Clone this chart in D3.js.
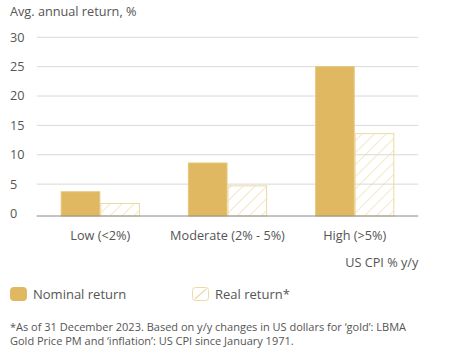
<!DOCTYPE html>
<html><head><meta charset="utf-8">
<script src="https://cdn.jsdelivr.net/npm/d3@7"></script>
<style>body{margin:0;background:#fff}svg{display:block;font-family:"Open Sans",sans-serif}</style>
</head><body>
<svg id="c" width="450" height="355"></svg>
<script>
const categories = ["Low (<2%)", "Moderate (2% - 5%)", "High (>5%)"];
const seriesNames = ["Nominal return", "Real return*"];
const nominal = [3.7, 8.6, 25.0];
const real = [1.7, 4.7, 13.6];
const yTicks = [0, 5, 10, 15, 20, 25, 30];
const title = "Avg. annual return, %";
const xTitle = "US CPI % y/y";
const footnote = ["*As of 31 December 2023. Based on y/y changes in US dollars for \u2018gold\u2019: LBMA",
                  "Gold Price PM and \u2018inflation\u2019: US CPI since January 1971."];

(function(){
const gold = "#E0B862", goldStroke = "#E6C67A", hatch = "#EDD9A3", text = "#555";
const svg = d3.select("#c");
const defs = svg.append("defs");
const pat = defs.append("pattern").attr("id","hatch").attr("patternUnits","userSpaceOnUse")
  .attr("width",8.5).attr("height",8.5).attr("patternTransform","rotate(45)");
pat.append("line").attr("x1",0).attr("y1",0).attr("x2",0).attr("y2",8.5)
  .attr("stroke",hatch).attr("stroke-width",1.2);

const mLeft = 36.7, mRight = 418.3, mTop = 37.3, zeroY = 213.5, axisOffset = 2.5;
const fs = 12.7;
const x0 = d3.scaleBand().domain(categories).range([mLeft, mRight]).padding(0);
const x1 = d3.scaleBand().domain(seriesNames).range([0, x0.bandwidth()]).paddingInner(0).paddingOuter(0.606);
const y = d3.scaleLinear().domain([0, 30]).range([zeroY, mTop]);
const axisY = y(0) + axisOffset;

svg.append("text").attr("x",10).attr("y",16).attr("fill",text).attr("font-size",fs).text(title);

const g = svg.append("g");
g.selectAll("line.grid").data(yTicks.filter(d=>d>0)).join("line")
  .attr("x1",mLeft).attr("x2",mRight).attr("y1",d=>y(d)).attr("y2",d=>y(d))
  .attr("stroke","#d9d9d9").attr("stroke-width",1);
g.selectAll("text.yl").data(yTicks).join("text")
  .attr("x",10).attr("y",d=>y(d)).attr("dy","0.35em").attr("fill",text).attr("font-size",fs).text(d=>d);

const data = categories.map((c,i)=>({c, vals:[{s:seriesNames[0], v:nominal[i]},{s:seriesNames[1], v:real[i]}]}));
const grp = svg.selectAll("g.cat").data(data).join("g").attr("transform",d=>`translate(${x0(d.c)},0)`);
grp.selectAll("rect").data(d=>d.vals).join("rect")
  .attr("x",d=>x1(d.s)+0.5).attr("width",x1.bandwidth()-1)
  .attr("y",d=>y(d.v)).attr("height",d=>axisY - y(d.v))
  .attr("fill",(d,i)=>i===0?gold:"url(#hatch)")
  .attr("stroke",(d,i)=>i===0?goldStroke:hatch).attr("stroke-width",1);

svg.append("line").attr("x1",mLeft).attr("x2",mRight).attr("y1",axisY).attr("y2",axisY)
  .attr("stroke","#888").attr("stroke-width",1);
svg.selectAll("text.xl").data(categories).join("text")
  .attr("x",d=>x0(d)+x0.bandwidth()/2).attr("y",240).attr("text-anchor","middle")
  .attr("fill",text).attr("font-size",fs).text(d=>d);
svg.append("text").attr("x",mRight).attr("y",267).attr("text-anchor","end")
  .attr("fill",text).attr("font-size",fs).text(xTitle);

const legX = [10, 192];
const leg = svg.selectAll("g.leg").data(seriesNames).join("g").attr("transform",(d,i)=>`translate(${legX[i]},287)`);
leg.append("rect").attr("x",0.5).attr("y",0.5).attr("width",16).attr("height",13).attr("rx",3)
  .attr("fill",(d,i)=>i===0?gold:"#fff").attr("stroke",(d,i)=>i===0?gold:hatch);
leg.filter((d,i)=>i===1).append("line").attr("x1",3).attr("y1",12).attr("x2",14).attr("y2",2)
  .attr("stroke",hatch).attr("stroke-width",1.2);
leg.append("text").attr("x",23).attr("y",7).attr("dy","0.35em").attr("fill",text).attr("font-size",13).text(d=>d);

svg.selectAll("text.fn").data(footnote).join("text")
  .attr("x",10).attr("y",(d,i)=>331+i*14).attr("fill",text).attr("font-size",11).text(d=>d);
})();
</script>
</body></html>
